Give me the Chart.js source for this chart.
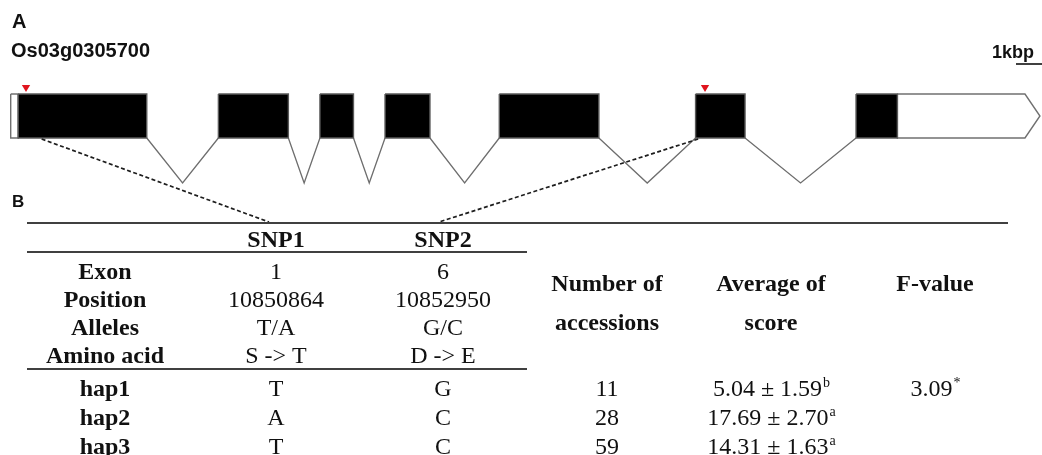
<!DOCTYPE html>
<html>
<head>
<meta charset="utf-8">
<title>Os03g0305700 haplotypes</title>
<script src="https://cdn.jsdelivr.net/npm/chart.js"></script>
<style>
  html, body { margin: 0; padding: 0; background: #fff; overflow: hidden; }
  #wrap { width: 1042px; height: 455px; }
  canvas { display: block; }
</style>
</head>
<body>
<div id="wrap"><canvas id="gene" width="1042" height="455"></canvas></div>
<script>
// ---- gene model (chromosome 3, bp) ----
const geneId = 'Os03g0305700';
const utr5 = [10850817, 10850840];
const cdsExonStarts = [10850840, 10851455, 10851767, 10851967, 10852318, 10852921, 10853414];
const cdsExonEnds   = [10851235, 10851670, 10851870, 10852105, 10852624, 10853073, 10853541];
const utr3 = [10853541, 10853979];
const snpPositions = [10850864, 10852950];
const snpLinkFrom = [10850912, 10852929];

// ---- SNP / haplotype table ----
const snpNames = ['SNP1', 'SNP2'];
const snpRowLabels = ['Exon', 'Position', 'Alleles', 'Amino acid'];
const snpExon = ['1', '6'];
const snpAlleles = ['T/A', 'G/C'];
const snpAminoAcid = ['S -> T', 'D -> E'];
const haplotypes = ['hap1', 'hap2', 'hap3'];
const hapSnp1 = ['T', 'A', 'T'];
const hapSnp2 = ['G', 'C', 'C'];
const accessionCounts = [11, 28, 59];
const scoreMeans = [5.04, 17.69, 14.31];
const scoreSds = [1.59, 2.70, 1.63];
const scoreGroups = ['b', 'a', 'a'];
const fValue = 3.09;
const fMark = '*';

// ---- layout ----
const X_MIN = 10850784.1, X_MAX = 10853985.3;   // genomic window shown across the page
const Y_TOP = 94, Y_BOT = 138, Y_MID = 116, Y_DIP = 183, SNP_MARK_Y = 87.3;
const ARROW_BP = 46;
const SERIF = '"Liberation Serif", "Times New Roman", serif';
const SANS = '"Liberation Sans", Arial, sans-serif';
const INK = '#111';
const RULE = '#404040';

const box = (s, e) => [
  {x: s, y: Y_TOP}, {x: e, y: Y_TOP}, {x: e, y: Y_BOT}, {x: s, y: Y_BOT}, {x: s, y: Y_TOP}
];

const exonSets = cdsExonStarts.map((s, i) => ({
  data: box(s, cdsExonEnds[i]),
  fill: 'shape', backgroundColor: '#000', borderColor: '#5a5a5a', borderWidth: 1.4,
  pointRadius: 0
}));

const utr5Set = {
  data: box(utr5[0], utr5[1]),
  fill: 'shape', backgroundColor: '#fff', borderColor: '#707070', borderWidth: 1.4, pointRadius: 0
};

const utr3Set = {
  data: [
    {x: utr3[0], y: Y_TOP}, {x: utr3[1] - ARROW_BP, y: Y_TOP}, {x: utr3[1], y: Y_MID},
    {x: utr3[1] - ARROW_BP, y: Y_BOT}, {x: utr3[0], y: Y_BOT}, {x: utr3[0], y: Y_TOP}
  ],
  fill: 'shape', backgroundColor: '#fff', borderColor: '#707070', borderWidth: 1.4, pointRadius: 0
};

const intronPts = [];
for (let i = 0; i < cdsExonStarts.length - 1; i++) {
  const a = cdsExonEnds[i], b = cdsExonStarts[i + 1];
  intronPts.push({x: a, y: Y_BOT}, {x: (a + b) / 2, y: Y_DIP}, {x: b, y: Y_BOT}, {x: b, y: null});
}
const intronSet = {
  data: intronPts, borderColor: '#6e6e6e', borderWidth: 1.3, pointRadius: 0, fill: false, spanGaps: false
};

const snpMarkSet = {
  data: snpPositions.map(p => ({x: p, y: SNP_MARK_Y})),
  showLine: false, pointStyle: 'triangle', rotation: 180, pointRadius: 4.8,
  backgroundColor: '#e0141e', borderColor: '#e0141e', borderWidth: 0
};

// table geometry (page units on the xt / y scales)
const COL_LABEL = 105, COL_SNP = [276, 443], COL_N = 607, COL_AVG = 771, COL_F = 935;
const LINK_END_X = [269, 439];
const RULE_TOP = 223, RULE_HEAD = 252, RULE_BLOCK = 369;
const HEAD_BASE = 247;
const SNP_ROW_BASE = [279, 307, 335, 363];
const HAP_ROW_BASE = [396, 425, 454];
const RIGHT_HEAD_BASE = [291, 330];

const annotate = {
  id: 'geneAnnotations',
  afterDatasetsDraw(chart) {
    const {ctx, scales} = chart;
    const gx = scales.x, tx = scales.xt, ty = scales.y;
    const px = v => tx.getPixelForValue(v);
    const py = v => ty.getPixelForValue(v);

    const text = (s, x, base, font, align = 'center') => {
      ctx.font = font;
      ctx.textAlign = align;
      ctx.textBaseline = 'alphabetic';
      ctx.fillStyle = INK;
      ctx.fillText(s, px(x), py(base));
    };
    const textSup = (main, sup, cx, base) => {
      const mainFont = '24px ' + SERIF, supFont = '14px ' + SERIF;
      ctx.font = mainFont; const w1 = ctx.measureText(main).width;
      ctx.font = supFont; const w2 = ctx.measureText(sup).width;
      const start = px(cx) - (w1 + w2) / 2;
      ctx.fillStyle = INK; ctx.textBaseline = 'alphabetic'; ctx.textAlign = 'left';
      ctx.font = mainFont; ctx.fillText(main, start, py(base));
      ctx.font = supFont; ctx.fillText(sup, start + w1 + 1, py(base - 9));
    };
    const rule = (x0, x1, yv, w) => {
      ctx.beginPath();
      ctx.strokeStyle = RULE; ctx.lineWidth = w;
      ctx.moveTo(px(x0), py(yv)); ctx.lineTo(px(x1), py(yv));
      ctx.stroke();
    };

    ctx.save();

    // panel labels, gene name, scale label
    text('A', 12, 28, 'bold 20px ' + SANS, 'left');
    text(geneId, 11, 57, 'bold 20px ' + SANS, 'left');
    text('B', 12, 207, 'bold 17px ' + SANS, 'left');
    text('1kbp', 992, 58, 'bold 18px ' + SANS, 'left');
    rule(1016, 1042, 64, 2);

    // dashed links from the SNP exons to their table columns
    ctx.save();
    ctx.setLineDash([4, 2.5]);
    ctx.strokeStyle = '#1e1e1e';
    ctx.lineWidth = 1.7;
    snpLinkFrom.forEach((bp, i) => {
      ctx.beginPath();
      ctx.moveTo(gx.getPixelForValue(bp), py(Y_BOT + 1));
      ctx.lineTo(px(LINK_END_X[i]), py(RULE_TOP - 1));
      ctx.stroke();
    });
    ctx.restore();

    // table rules
    rule(27, 1008, RULE_TOP, 2.2);
    rule(27, 527, RULE_HEAD, 2);
    rule(27, 527, RULE_BLOCK, 2);

    const bold = 'bold 24px ' + SERIF, reg = '24px ' + SERIF;

    // SNP header and descriptors
    snpNames.forEach((n, i) => text(n, COL_SNP[i], HEAD_BASE, bold));
    const snpCells = [snpExon, snpPositions.map(String), snpAlleles, snpAminoAcid];
    snpRowLabels.forEach((lab, r) => {
      text(lab, COL_LABEL, SNP_ROW_BASE[r], bold);
      snpCells[r].forEach((v, i) => text(v, COL_SNP[i], SNP_ROW_BASE[r], reg));
    });

    // right-hand headers
    text('Number of', COL_N, RIGHT_HEAD_BASE[0], bold);
    text('accessions', COL_N, RIGHT_HEAD_BASE[1], bold);
    text('Average of', COL_AVG, RIGHT_HEAD_BASE[0], bold);
    text('score', COL_AVG, RIGHT_HEAD_BASE[1], bold);
    text('F-value', COL_F, RIGHT_HEAD_BASE[0], bold);

    // haplotype rows
    haplotypes.forEach((h, r) => {
      const b = HAP_ROW_BASE[r];
      text(h, COL_LABEL, b, bold);
      text(hapSnp1[r], COL_SNP[0], b, reg);
      text(hapSnp2[r], COL_SNP[1], b, reg);
      text(String(accessionCounts[r]), COL_N, b, reg);
      textSup(scoreMeans[r].toFixed(2) + ' \u00b1 ' + scoreSds[r].toFixed(2), scoreGroups[r], COL_AVG, b);
    });
    textSup(fValue.toFixed(2), fMark, COL_F, HAP_ROW_BASE[0]);

    ctx.restore();
  }
};

new Chart(document.getElementById('gene'), {
  type: 'line',
  data: {
    datasets: [snpMarkSet, ...exonSets, utr5Set, utr3Set, intronSet]
  },
  options: {
    responsive: false,
    devicePixelRatio: 1,
    animation: false,
    events: [],
    layout: {autoPadding: false, padding: 0},
    elements: {line: {tension: 0}},
    scales: {
      x: {type: 'linear', min: X_MIN, max: X_MAX, display: false},
      xt: {type: 'linear', axis: 'x', min: 0, max: 1042, display: false},
      y: {type: 'linear', min: 0, max: 455, reverse: true, display: false}
    },
    plugins: {legend: {display: false}, tooltip: {enabled: false}, title: {display: false}}
  },
  plugins: [annotate]
});
</script>
</body>
</html>
